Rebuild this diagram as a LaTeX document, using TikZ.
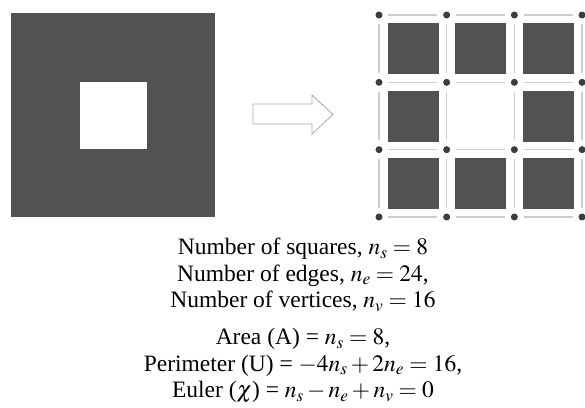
\documentclass[tikz,border=0pt]{standalone}
\usepackage{mathptmx}
\usepackage{fontspec}
\setmainfont{Liberation Serif}
\usepackage{xcolor}
\usetikzlibrary{positioning}
\definecolor{kfill}{RGB}{82,82,82}
\definecolor{kdot}{RGB}{60,60,60}
\definecolor{kedge}{RGB}{205,205,205}
\definecolor{karrow}{RGB}{170,170,170}

\begin{document}
\begin{tikzpicture}[x=1pt,y=-1pt]
\tikzstyle{block}=[fill=kfill, draw=none, inner sep=0pt, minimum size=204pt]
\tikzstyle{hole}=[fill=white, draw=none, inner sep=0pt, minimum size=67pt]
\tikzstyle{cell}=[fill=kfill, draw=none, inner sep=0pt, minimum size=51pt]
\tikzstyle{vtx}=[circle, fill=kdot, inner sep=0pt, minimum size=7pt]
\tikzstyle{edge}=[draw=kedge, line width=1.4pt, shorten <=5.5pt, shorten >=5.5pt]
\tikzstyle{hollow}=[draw=karrow, line width=0.8pt, fill=white, line join=miter]
\tikzstyle{caption}=[align=center, inner sep=0pt, font=\fontsize{23.5}{26.5}\selectfont]
\useasboundingbox (0,0) rectangle (585,407);

% solid square with a hole
\node[block] (bulk) at (113,115) {};
\node[hole] (pore) at (bulk.center) {};

% hollow arrow
\draw[hollow] (253,104) -- (312,104) -- (312,95) -- (333,114.5) -- (312,134) -- (312,124) -- (253,124) -- cycle;

% vertices
\foreach \i in {0,...,3}
  \foreach \j in {0,...,3}
    \node[vtx] (v\i\j) at ({379+67.67*\i},{15+67.33*\j}) {};

% filled squares
\foreach \i/\j in {0/0,1/0,2/0,0/1,2/1,0/2,1/2,2/2}
  \node[cell] (c\i\j) at ({379+67.67*\i+34},{15+67.33*\j+33.7}) {};

% edges
\foreach \i [evaluate=\i as \ii using int(\i+1)] in {0,1,2}
  \foreach \j in {0,...,3} {
    \draw[edge] (v\i\j) -- (v\ii\j);
    \draw[edge] (v\j\i) -- (v\j\ii);
  }

% counts and measures
\node[caption] (counts) at (303,275) {Number of squares, $n_s=8$\\Number of edges, $n_e=24$,\\Number of vertices, $n_v=16$};
\node[caption] (measures) at (303,366) {Area (A) = $n_s=8$,\\Perimeter (U) = $-4n_s+2n_e=16$,\\Euler ($\chi$) = $n_s-n_e+n_v=0$};
\end{tikzpicture}
\end{document}
